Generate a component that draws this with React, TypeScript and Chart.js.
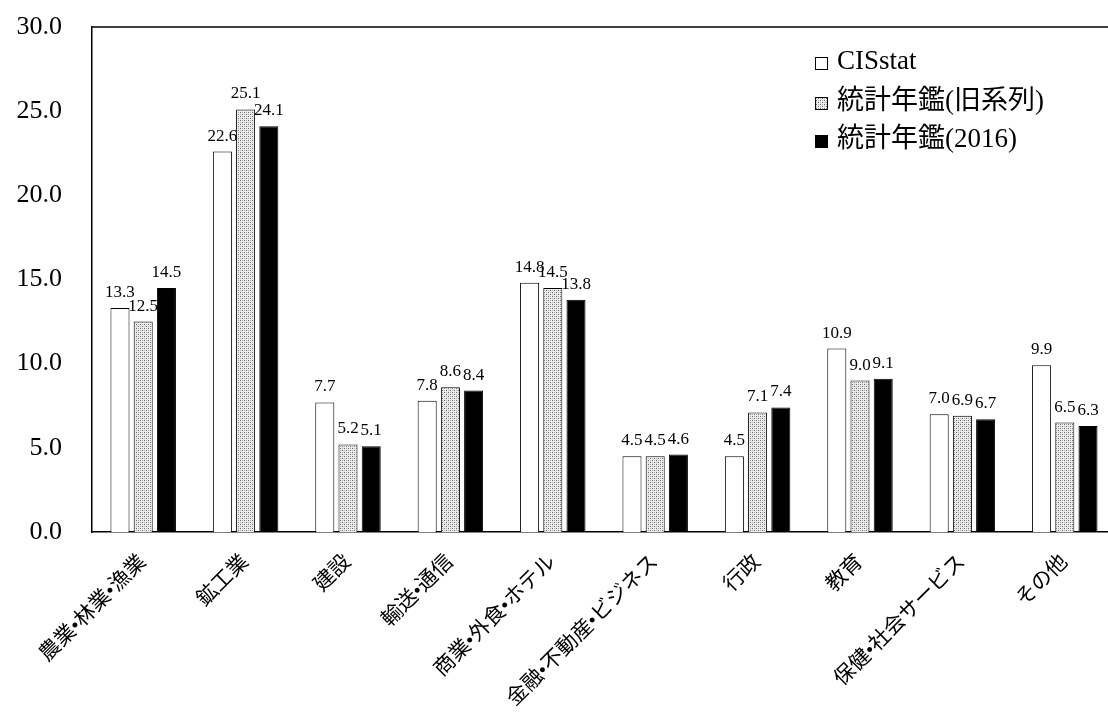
import React, { useEffect, useRef } from "react";
import { Chart, registerables } from "chart.js";

Chart.register(...registerables);

const categories = [
  "農業•林業•漁業",
  "鉱工業",
  "建設",
  "輸送•通信",
  "商業•外食•ホテル",
  "金融•不動産•ビジネス",
  "行政",
  "教育",
  "保健•社会サービス",
  "その他",
];

const seriesNames = ["CISstat", "統計年鑑(旧系列)", "統計年鑑(2016)"];

const cisstat = [13.3, 22.6, 7.7, 7.8, 14.8, 4.5, 4.5, 10.9, 7.0, 9.9];
const yearbookOld = [12.5, 25.1, 5.2, 8.6, 14.5, 4.5, 7.1, 9.0, 6.9, 6.5];
const yearbook2016 = [14.5, 24.1, 5.1, 8.4, 13.8, 4.6, 7.4, 9.1, 6.7, 6.3];

const yTicks = [0, 5, 10, 15, 20, 25, 30];

const SERIF = '"Liberation Serif", "Times New Roman", "Noto Sans CJK JP", serif';

function makeDotPattern(): CanvasPattern | string {
  const tile = document.createElement("canvas");
  tile.width = 4;
  tile.height = 4;
  const g = tile.getContext("2d");
  if (!g) return "#bbb";
  g.fillStyle = "#ececec";
  g.fillRect(0, 0, 4, 4);
  g.fillStyle = "#6a6a6a";
  g.fillRect(0, 0, 1, 1);
  g.fillRect(2, 2, 1, 1);
  g.fillStyle = "#b0b0b0";
  g.fillRect(2, 0, 1, 1);
  g.fillRect(0, 2, 1, 1);
  const p = g.createPattern(tile, "repeat");
  return p || "#bbb";
}

export default function App() {
  const ref = useRef<HTMLCanvasElement | null>(null);

  useEffect(() => {
    const canvas = ref.current;
    if (!canvas) return;
    const dots = makeDotPattern();
    const fills: (string | CanvasPattern)[] = ["#ffffff", dots, "#000000"];

    const valueLabels = {
      id: "valueLabels",
      afterDatasetsDraw(chart: any) {
        const ctx = chart.ctx;
        ctx.save();
        ctx.font = `17px ${SERIF}`;
        ctx.fillStyle = "#000";
        ctx.textAlign = "center";
        ctx.textBaseline = "alphabetic";
        chart.data.datasets.forEach((ds: any, i: number) => {
          const meta = chart.getDatasetMeta(i);
          meta.data.forEach((bar: any, j: number) => {
            ctx.fillText(Number(ds.data[j]).toFixed(1), bar.x, bar.y - 11);
          });
        });
        ctx.restore();
      },
    };

    const frameAndLegend = {
      id: "frameAndLegend",
      afterDraw(chart: any) {
        const ctx = chart.ctx;
        const a = chart.chartArea;
        ctx.save();
        ctx.strokeStyle = "#000";
        ctx.lineWidth = 1.5;
        ctx.beginPath();
        ctx.moveTo(a.left, a.top);
        ctx.lineTo(a.right, a.top);
        ctx.stroke();

        // legend in the upper right of the plot
        const x0 = a.left + 723;
        const rows = [a.top + 35, a.top + 75, a.top + 113];
        ctx.font = `27px ${SERIF}`;
        ctx.textBaseline = "middle";
        ctx.textAlign = "left";
        rows.forEach((y, i) => {
          ctx.fillStyle = fills[i] as any;
          ctx.fillRect(x0, y - 5, 13, 13);
          ctx.lineWidth = 1;
          ctx.strokeStyle = "#000";
          ctx.strokeRect(x0 + 0.5, y - 4.5, 12, 12);
          ctx.fillStyle = "#000";
          ctx.fillText(seriesNames[i], x0 + 22, y);
        });
        ctx.restore();
      },
    };

    const chart = new Chart(canvas, {
      type: "bar",
      data: {
        labels: categories,
        datasets: [cisstat, yearbookOld, yearbook2016].map((d, i) => ({
          label: seriesNames[i],
          data: d,
          backgroundColor: fills[i] as any,
          borderColor: "#000",
          borderWidth: 1,
          categoryPercentage: 0.68,
          barPercentage: 0.82,
        })),
      },
      options: {
        animation: false,
        responsive: false,
        layout: { padding: { top: 27, right: 0, bottom: 0, left: 0 } },
        plugins: {
          legend: { display: false },
          tooltip: { enabled: false },
        },
        scales: {
          x: {
            grid: { display: false, drawTicks: false },
            border: { display: true, color: "#000", width: 1.5 },
            ticks: {
              autoSkip: false,
              minRotation: 45,
              maxRotation: 45,
              padding: 18,
              color: "#000",
              font: { family: SERIF, size: 21 },
            },
            afterFit(scale: any) {
              scale.height = 194;
              scale.paddingLeft = 0;
              scale.paddingRight = 0;
              scale.paddingTop = 0;
              scale.paddingBottom = 0;
            },
          },
          y: {
            min: 0,
            max: 30,
            afterBuildTicks(scale: any) {
              scale.ticks = yTicks.map((v) => ({ value: v }));
            },
            grid: { display: false, drawTicks: false },
            border: { display: true, color: "#000", width: 1.5 },
            ticks: {
              padding: 30,
              color: "#000",
              font: { family: SERIF, size: 26 },
              callback: (v: any) => Number(v).toFixed(1),
            },
            afterFit(scale: any) {
              scale.width = 92;
              scale.paddingTop = 0;
              scale.paddingBottom = 0;
              scale.paddingLeft = 0;
              scale.paddingRight = 0;
            },
          },
        },
      },
      plugins: [valueLabels, frameAndLegend],
    });

    return () => chart.destroy();
  }, []);

  return (
    <div
      style={{
        position: "fixed",
        left: 0,
        top: 0,
        width: 1108,
        height: 726,
        overflow: "hidden",
        background: "#fff",
      }}
    >
      <canvas ref={ref} width={1116} height={726} style={{ display: "block" }} />
    </div>
  );
}
